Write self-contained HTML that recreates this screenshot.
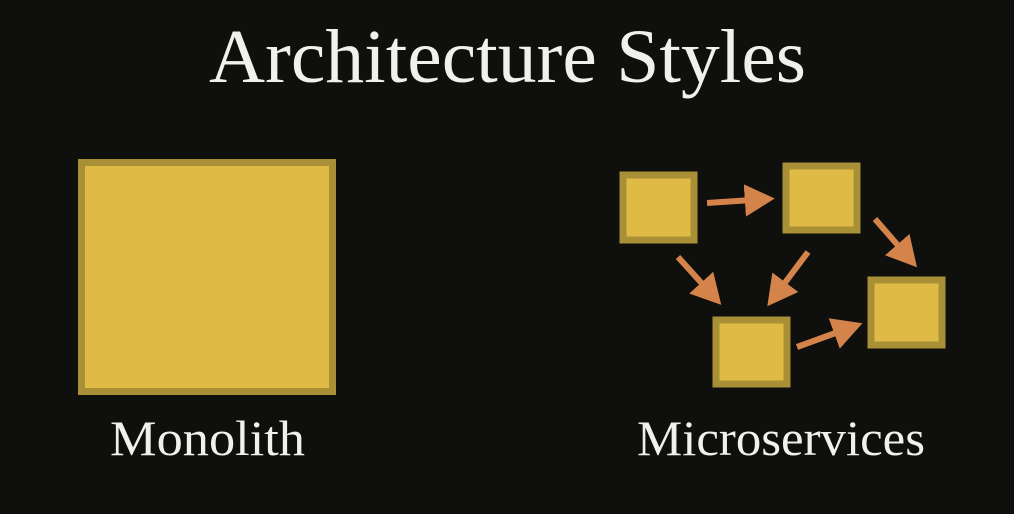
<!DOCTYPE html>
<html><head><style>
html,body{margin:0;padding:0;background:#0f100e;}
svg{display:block;}
</style></head><body>
<svg width="1014" height="514" viewBox="0 0 1014 514" xmlns="http://www.w3.org/2000/svg">
<rect width="1014" height="514" fill="#0f100e"/>
<text x="209" y="82" font-family="Liberation Serif, serif" font-size="76" fill="#f0f0ee" textLength="597" lengthAdjust="spacingAndGlyphs">Architecture Styles</text>
<text x="110" y="455" font-family="Liberation Serif, serif" font-size="50" fill="#f0f0ee" textLength="195" lengthAdjust="spacingAndGlyphs">Monolith</text>
<text x="637" y="455" font-family="Liberation Serif, serif" font-size="50" fill="#f0f0ee" textLength="288" lengthAdjust="spacingAndGlyphs">Microservices</text>
<g fill="#dfbb45" stroke="#a99036" stroke-width="7">
<rect x="81.5" y="162.5" width="251" height="229"/>
<rect x="623" y="175" width="71" height="65"/>
<rect x="786" y="166" width="71" height="64"/>
<rect x="716" y="320" width="71" height="64"/>
<rect x="871" y="280" width="71" height="65"/>
</g>
<defs>
<marker id="a" markerWidth="5" markerHeight="5.4" refX="1.2" refY="2.7" orient="auto" markerUnits="strokeWidth">
<path d="M0,0 L5,2.7 L0,5.4 Z" fill="#d4834a"/>
</marker>
</defs>
<g stroke="#d4834a" stroke-width="6" fill="none" marker-end="url(#a)">
<line x1="707" y1="203" x2="752" y2="200"/>
<line x1="678" y1="257" x2="706" y2="288"/>
<line x1="808" y1="252" x2="781" y2="288"/>
<line x1="875" y1="219" x2="902" y2="250"/>
<line x1="797" y1="347" x2="841" y2="331"/>
</g>
</svg>
</body></html>
